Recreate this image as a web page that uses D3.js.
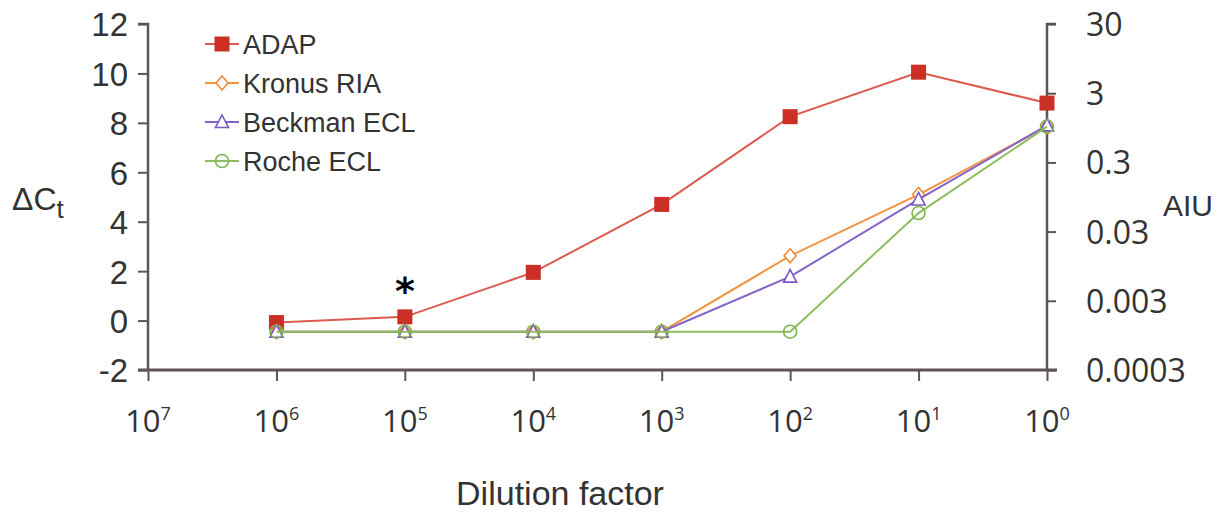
<!DOCTYPE html>
<html><head><meta charset="utf-8">
<script src="https://cdn.jsdelivr.net/npm/d3@7"></script>
<style>
html,body{margin:0;padding:0;background:#fff;}
svg{display:block;}
</style></head>
<body>
<svg id="chart" width="1225" height="512"></svg>
<script>
// ---- data ----
const dilution = [1e6, 1e5, 1e4, 1e3, 1e2, 1e1, 1e0];
const xTickValues = [1e7, 1e6, 1e5, 1e4, 1e3, 1e2, 1e1, 1e0];
const xTickExponents = ["7", "6", "5", "4", "3", "2", "1", "0"];
const leftTicks = [-2, 0, 2, 4, 6, 8, 10, 12];
const leftTickLabels = ["-2", "0", "2", "4", "6", "8", "10", "12"];
const rightTicks = [0.0003, 0.003, 0.03, 0.3, 3, 30];
const rightTickLabels = ["0.0003", "0.003", "0.03", "0.3", "3", "30"];
const seriesNames = ["ADAP", "Kronus RIA", "Beckman ECL", "Roche ECL"];
const adap    = [-0.08, 0.15, 1.95, 4.7, 8.25, 10.05, 8.8];
const kronus  = [-0.45, -0.45, -0.45, -0.45, 2.62, 5.1, 7.85];
const beckman = [-0.45, -0.45, -0.45, -0.45, 1.78, 4.9, 7.9];
const roche   = [-0.45, -0.45, -0.45, -0.45, -0.45, 4.35, 7.85];
const asteriskX = [1e5];
const asteriskY = [1.35];

const seriesValues = [adap, kronus, beckman, roche];
const lineColors = ["#dc5a4e", "#f3943f", "#8563c9", "#8dbd5e"];
const markerColors = ["#cc2f26", "#f08a34", "#7a55c6", "#7fb552"];
const markerTypes = ["square", "diamond", "triangle", "circle"];

// ---- layout ----
const svg = d3.select("#chart");
const axisColor = "#5d5453";
const textColor = "#333";
const x = d3.scaleLog().domain([1e7, 1]).range([148, 1047]);
const y = d3.scaleLinear().domain([-2, 12]).range([370, 24]);
const yR = d3.scaleLog().domain([0.0003, 30]).range([370, 24]);

// x axis
const gx = svg.append("g").attr("transform", "translate(0,370)")
  .call(d3.axisBottom(x).tickValues(xTickValues).tickSize(11).tickFormat(""));
gx.select(".domain").remove();
gx.selectAll(".tick line").attr("stroke", axisColor).attr("stroke-width", 2);
gx.append("line").attr("x1", 138).attr("x2", 1057).attr("y1", 0).attr("y2", 0)
  .attr("stroke", axisColor).attr("stroke-width", 3);
xTickValues.forEach((v, i) => {
  const t = svg.append("text").attr("x", x(v)).attr("y", 432)
    .attr("text-anchor", "middle").attr("font-family", "Open Sans, sans-serif")
    .attr("font-size", 31).attr("fill", textColor);
  t.append("tspan").text("10");
  t.append("tspan").attr("dy", -12).attr("font-size", 18).text(xTickExponents[i]);
});

// left axis
const gl = svg.append("g").attr("transform", "translate(148,0)")
  .call(d3.axisLeft(y).tickValues(leftTicks).tickSize(10).tickPadding(10)
    .tickFormat((d, i) => leftTickLabels[i]));
gl.select(".domain").attr("stroke", axisColor).attr("stroke-width", 2.5)
  .attr("d", "M-10,24H0V370");
gl.selectAll(".tick line").attr("stroke", axisColor).attr("stroke-width", 2);
gl.selectAll(".tick text").attr("font-family", "Liberation Sans, Arial, sans-serif")
  .attr("font-size", 33).attr("fill", textColor).attr("dy", "0.36em");

// right axis
const gr = svg.append("g").attr("transform", "translate(1047,0)")
  .call(d3.axisRight(yR).tickValues(rightTicks).tickSize(9).tickPadding(30)
    .tickFormat((d, i) => rightTickLabels[i]));
gr.select(".domain").attr("stroke", axisColor).attr("stroke-width", 2.5)
  .attr("d", "M9,24H0V370");
gr.selectAll(".tick line").attr("stroke", axisColor).attr("stroke-width", 2);
gr.selectAll(".tick text").attr("font-family", "Open Sans, sans-serif")
  .attr("font-size", 32).attr("fill", textColor).attr("dy", "0.36em");

// axis titles
const yt = svg.append("text").attr("x", 12).attr("y", 210)
  .attr("font-family", "Liberation Sans, Arial, sans-serif").attr("font-size", 32).attr("fill", textColor);
yt.append("tspan").text("ΔC");
yt.append("tspan").attr("dy", 8).attr("font-size", 26).text("t");

svg.append("text").attr("x", 1188).attr("y", 216).attr("text-anchor", "middle")
  .attr("font-family", "Liberation Sans, Arial, sans-serif").attr("font-size", 30)
  .attr("fill", textColor).text("AIU");

svg.append("text").attr("x", 560).attr("y", 505).attr("text-anchor", "middle")
  .attr("font-family", "Liberation Sans, Arial, sans-serif").attr("font-size", 34)
  .attr("fill", textColor).text("Dilution factor");

// marker drawing
function drawMarker(g, type, cx, cy, color) {
  if (type === "square") {
    g.append("rect").attr("x", cx - 7.5).attr("y", cy - 7.5).attr("width", 15).attr("height", 15)
      .attr("fill", color);
  } else if (type === "diamond") {
    g.append("path").attr("d", `M${cx},${cy-7}L${cx+6},${cy}L${cx},${cy+7}L${cx-6},${cy}Z`)
      .attr("fill", "#fff").attr("stroke", color).attr("stroke-width", 1.6);
  } else if (type === "triangle") {
    g.append("path").attr("d", `M${cx},${cy-7}L${cx+6.5},${cy+5.5}L${cx-6.5},${cy+5.5}Z`)
      .attr("fill", "#fff").attr("stroke", color).attr("stroke-width", 1.6);
  } else {
    g.append("circle").attr("cx", cx).attr("cy", cy).attr("r", 6.5)
      .attr("fill", "none").attr("stroke", color).attr("stroke-width", 1.6);
  }
}

const line = d3.line().x(d => x(d[0])).y(d => y(d[1]));
seriesValues.forEach((vals, si) => {
  const g = svg.append("g");
  const pts = dilution.map((d, i) => [d, vals[i]]);
  g.append("path").attr("d", line(pts)).attr("fill", "none")
    .attr("stroke", lineColors[si]).attr("stroke-width", 2);
  pts.forEach(p => drawMarker(g, markerTypes[si], x(p[0]), y(p[1]), markerColors[si]));
});

// asterisk
svg.append("text").attr("x", x(asteriskX[0])).attr("y", y(asteriskY[0]) + 17)
  .attr("text-anchor", "middle").attr("font-family", "DejaVu Sans, sans-serif")
  .attr("font-size", 38).attr("font-weight", "bold").attr("fill", "#000").text("*");

// legend
const legendY = [44, 83, 122, 161];
seriesNames.forEach((name, i) => {
  const g = svg.append("g");
  g.append("line").attr("x1", 205).attr("x2", 239).attr("y1", legendY[i]).attr("y2", legendY[i])
    .attr("stroke", lineColors[i]).attr("stroke-width", 2);
  drawMarker(g, markerTypes[i], 222, legendY[i], markerColors[i]);
  g.append("text").attr("x", 243).attr("y", legendY[i] + 9.5)
    .attr("font-family", "Liberation Sans, Arial, sans-serif").attr("font-size", 27)
    .attr("fill", textColor).text(name);
});
</script>
</body></html>
